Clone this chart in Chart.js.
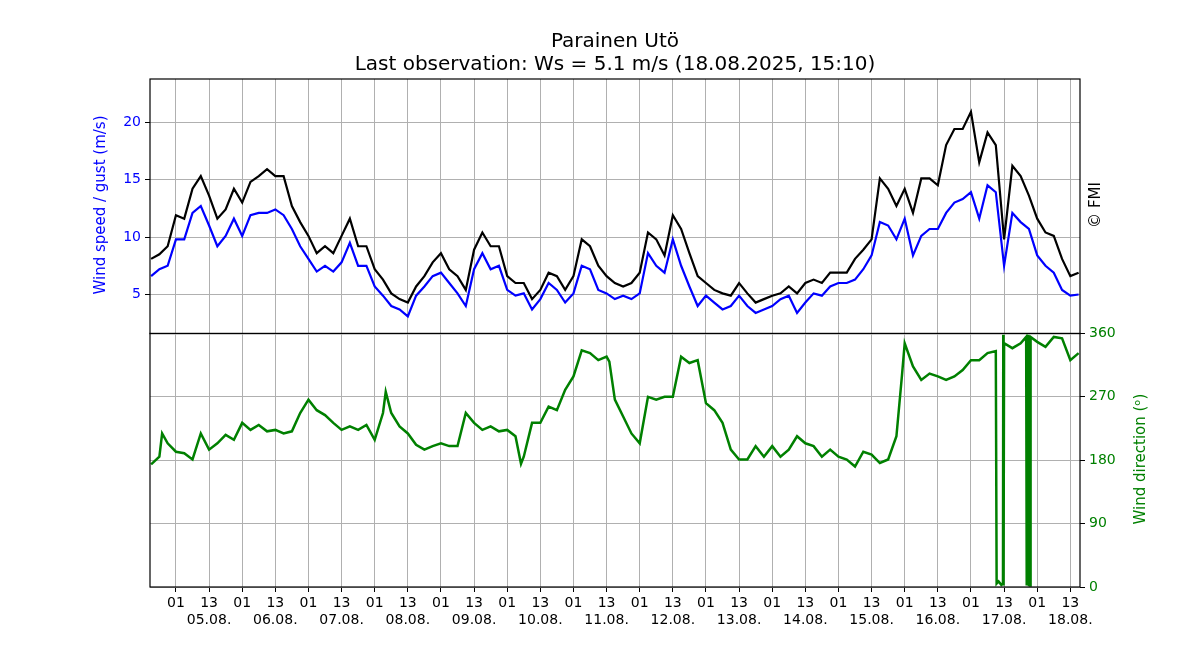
<!DOCTYPE html>
<html><head><meta charset="utf-8">
<script src="https://cdn.jsdelivr.net/npm/chart.js@4/dist/chart.umd.min.js"></script>
<style>
body{margin:0;width:1200px;height:660px;background:#fff;font-family:"DejaVu Sans",sans-serif;position:relative;overflow:hidden}
#t1,#t2{position:absolute;left:115px;width:1000px;text-align:center;font-size:20px;color:#000}
#t1{top:28px}#t2{top:51px}
#c1w{position:absolute;left:0;top:0;width:1200px;height:346px}
#c2w{position:absolute;left:0;top:321px;width:1200px;height:339px}
#fmi{position:absolute;left:1060px;top:196px;width:70px;text-align:center;font-size:15px;transform:rotate(-90deg)}
#yl{position:absolute;left:0px;top:196px;width:200px;text-align:center;font-size:15px;color:#0000ff;transform:rotate(-90deg)}
#yr{position:absolute;left:1040px;top:450px;width:200px;text-align:center;font-size:15px;color:#008000;transform:rotate(-90deg)}
</style></head><body>
<div id="c1w"><canvas id="c1"></canvas></div>
<div id="c2w"><canvas id="c2"></canvas></div>
<div id="t1">Parainen Utö</div>
<div id="t2">Last observation: Ws = 5.1 m/s (18.08.2025, 15:10)</div>
<div id="fmi">© FMI</div>
<div id="yl">Wind speed / gust (m/s)</div>
<div id="yr">Wind direction (ᵒ)</div>
<script>
// hours since 04.08.2025 00:00
const hours = [16,19,22,25,28,31,34,37,40,43,46,49,52,55,58,61,64,67,70,73,76,79,82,85,88,91,94,97,100,103,106,109,112,115,118,121,124,127,130,133,136,139,142,145,148,151,154,157,160,163,166,169,172,175,178,181,184,
187,190,193,196,199,202,205,208,211,214,217,220,223,226,229,232,235,238,241,244,247,250,253,256,259,262,265,268,271,274,277,280,283,286,289,292,295,298,301,304,307,310,313,316,319,322,325,328,331,334,337,340,343,346,349,352];
const windSpeed = [6.6,7.2,7.5,9.8,9.8,12.1,12.7,11.0,9.2,10.1,11.6,10.1,11.9,12.1,12.1,12.4,11.9,10.7,9.2,8.1,7.0,7.5,7.0,7.8,9.5,7.5,7.5,5.7,4.9,4.0,3.7,3.1,4.9,5.7,6.6,6.9,6.0,5.1,4.0,7.2,8.6,7.2,7.5,5.4,4.9,5.1,3.7,4.6,6.0,5.4,4.3,5.1,7.5,7.2,5.4,5.1,4.6,
4.9,4.6,5.1,8.6,7.5,6.9,9.8,7.5,5.7,4.0,4.9,4.3,3.7,4.0,4.9,4.0,3.4,3.7,4.0,4.6,4.9,3.4,4.3,5.1,4.9,5.7,6.0,6.0,6.3,7.2,8.4,11.3,11.0,9.8,11.6,8.4,10.1,10.7,10.7,12.1,13.0,13.3,13.9,11.6,14.5,13.9,7.5,12.1,11.3,10.7,8.4,7.5,6.9,5.4,4.9,5.0];
const gust = [8.1,8.5,9.2,11.9,11.6,14.2,15.3,13.6,11.6,12.4,14.2,13.0,14.8,15.3,15.9,15.3,15.3,12.7,11.3,10.1,8.6,9.2,8.6,10.1,11.6,9.2,9.2,7.2,6.3,5.1,4.6,4.3,5.7,6.6,7.8,8.6,7.2,6.6,5.4,8.9,10.4,9.2,9.2,6.6,6.0,6.0,4.6,5.4,6.9,6.6,5.4,6.6,9.8,9.2,7.5,6.6,6.0,
5.7,6.0,6.9,10.4,9.8,8.4,11.9,10.7,8.6,6.6,6.0,5.4,5.1,4.9,6.0,5.1,4.3,4.6,4.9,5.1,5.7,5.1,6.0,6.3,6.0,6.9,6.9,6.9,8.1,8.9,9.8,15.1,14.2,12.7,14.2,12.1,15.1,15.1,14.5,18.0,19.4,19.4,20.9,16.5,19.1,18.0,9.8,16.2,15.3,13.6,11.6,10.4,10.1,8.1,6.6,6.9];
const dirHours = [16,19,20,22,25,28,31,34,37,40,43,46,49,52,55,58,61,64,67,70,73,76,79,82,85,88,91,94,97,100,101,103,106,109,112,115,118,121,124,127,130,133,136,139,142,145,148,150,151,154,157,160,163,166,169,172,175,178,181,182,184,
187,190,193,196,199,202,205,208,211,214,217,220,223,226,229,232,235,238,241,244,247,250,253,256,259,262,265,268,271,274,277,280,283,286,288,289,292,295,298,301,304,307,310,313,316,319,322,322.3,323,324,324.5,324.6,324.7,324.8,325,328,331,333,333.2,333.4,333.6,333.8,334,334.2,334.4,334.6,337,340,343,346,349,352];
const direction = [174,185,218,204,192,190,181,218,195,204,216,209,233,223,230,221,223,218,221,247,266,251,244,233,223,228,223,230,209,247,277,247,228,218,202,195,200,204,200,200,247,233,223,228,221,223,214,175,185,233,233,256,251,280,299,336,332,322,327,320,266,
242,218,204,270,266,270,270,327,318,322,261,251,233,195,181,181,200,185,200,185,195,214,204,200,185,195,185,181,171,192,188,176,181,214,300,346,313,294,303,299,294,299,308,322,322,332,335,5,8,3,5,2,358,2,346,339,346,355,2,358,3,357,1,356,2,355,348,341,355,353,322,332];
const dateLabels = ['05.08.','06.08.','07.08.','08.08.','09.08.','10.08.','11.08.','12.08.','13.08.','14.08.','15.08.','16.08.','17.08.','18.08.'];
const speedTicks = [5,10,15,20];
const dirTicks = [0,90,180,270,360];

const xMin = 15.6, xMax = 352.5;
const xTicks = []; for (let h = 25; h <= xMax; h += 12) xTicks.push(h);
const frame = {id:'frame', afterDraw(c){const a=c.chartArea,x=c.ctx;x.save();x.strokeStyle='#000';x.lineWidth=1.2;x.strokeRect(a.left,a.top,a.right-a.left,a.bottom-a.top);x.restore();}};
const font = {family:'DejaVu Sans', size:14};
const gridC = '#b0b0b0';
function xScale(showLabels){
  return {type:'linear',min:xMin,max:xMax,
    afterBuildTicks:s=>{s.ticks=xTicks.map(v=>({value:v}));},
    afterFit:s=>{s.height=showLabels?73:0;},
    grid:{color:gridC,lineWidth:1,drawTicks:showLabels,tickLength:5,tickColor:'#000'},
    border:{display:false},
    ticks:{display:showLabels,color:'#000',font,maxRotation:0,autoSkip:false,padding:3,
      callback:v=>{const hh=v%24;if(hh===1)return '01';const d=Math.floor(v/24)-1;return ['13',dateLabels[d]];}}};
}
Chart.defaults.font.family='DejaVu Sans';
new Chart(document.getElementById('c1'),{type:'line',
  data:{datasets:[
    {data:hours.map((h,i)=>({x:h,y:windSpeed[i]})),borderColor:'#0000ff',borderWidth:2.2,pointRadius:0,tension:0},
    {data:hours.map((h,i)=>({x:h,y:gust[i]})),borderColor:'#000',borderWidth:2.2,pointRadius:0,tension:0}]},
  options:{responsive:true,maintainAspectRatio:false,animation:false,
    layout:{padding:{top:79,right:120,left:0,bottom:0}},
    plugins:{legend:{display:false},tooltip:{enabled:false}},
    scales:{x:xScale(false),
      y:{min:1.6,max:23.75,afterBuildTicks:s=>{s.ticks=speedTicks.map(v=>({value:v}));},
        afterFit:s=>{s.width=150;},
        grid:{color:gridC,tickColor:'#000',tickLength:5},border:{display:false},
        ticks:{color:'#0000ff',font,padding:4}}}},
  plugins:[frame]});
new Chart(document.getElementById('c2'),{type:'line',
  data:{datasets:[
    {data:dirHours.map((h,i)=>({x:h,y:direction[i]})),borderColor:'#008000',borderWidth:2.5,pointRadius:0,tension:0}]},
  options:{responsive:true,maintainAspectRatio:false,animation:false,
    layout:{padding:{top:0,right:0,left:150,bottom:0}},
    plugins:{legend:{display:false},tooltip:{enabled:false}},
    scales:{x:xScale(true),
      y:{position:'right',min:0,max:360,afterBuildTicks:s=>{s.ticks=dirTicks.map(v=>({value:v}));},
        afterFit:s=>{s.width=120;},
        grid:{color:gridC,tickColor:'#000',tickLength:5},border:{display:false},
        ticks:{color:'#008000',font,padding:4}}}},
  plugins:[frame]});
</script></body></html>
